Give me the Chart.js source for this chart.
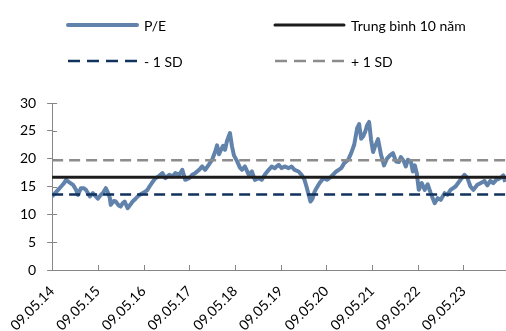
<!DOCTYPE html>
<html>
<head>
<meta charset="utf-8">
<script src="https://cdn.jsdelivr.net/npm/chart.js@4.4.1/dist/chart.umd.min.js"></script>
<style>
  html, body { margin: 0; padding: 0; background: #fff; }
</style>
</head>
<body>
<canvas id="peChart" width="506" height="331"></canvas>
<script>
// x axis labels, one per year
const tickLabels = ['09.05.14', '09.05.15', '09.05.16', '09.05.17', '09.05.18',
  '09.05.19', '09.05.20', '09.05.21', '09.05.22', '09.05.23'];

// time in years counted from 09.05.14
const years = [
  0, 0.065, 0.13, 0.196, 0.261, 0.304, 0.37, 0.457, 0.522, 0.565, 0.63, 0.696, 0.739, 0.826, 0.891, 0.957,
  1.0, 1.065, 1.109, 1.174, 1.217, 1.261, 1.283, 1.348, 1.391, 1.457, 1.5, 1.543, 1.587, 1.652, 1.717, 1.761, 1.826, 1.87, 1.935, 1.978,
  2.043, 2.087, 2.13, 2.196, 2.261, 2.326, 2.413, 2.478, 2.565, 2.63, 2.696, 2.783, 2.848, 2.913,
  3.0, 3.065, 3.13, 3.217, 3.283, 3.348, 3.435, 3.5, 3.565, 3.609, 3.652, 3.696, 3.739, 3.783, 3.826, 3.891, 3.935, 3.978,
  4.043, 4.109, 4.152, 4.217, 4.304, 4.37, 4.435, 4.522, 4.587, 4.652, 4.739, 4.804, 4.87, 4.957,
  5.022, 5.087, 5.174, 5.239, 5.304, 5.391, 5.457, 5.522, 5.565, 5.609, 5.652, 5.696, 5.739, 5.783, 5.848, 5.935,
  6.022, 6.109, 6.217, 6.326, 6.391, 6.478, 6.543, 6.609, 6.674, 6.717, 6.761, 6.804, 6.848, 6.891, 6.935, 6.978,
  7.022, 7.065, 7.13, 7.196, 7.261, 7.326, 7.391, 7.457, 7.522, 7.587, 7.63, 7.696, 7.739, 7.783, 7.848, 7.891, 7.935, 7.978,
  8.022, 8.087, 8.152, 8.217, 8.283, 8.37, 8.435, 8.5, 8.587, 8.652, 8.717, 8.826, 8.935,
  9.022, 9.087, 9.152, 9.217, 9.304, 9.37, 9.457, 9.522, 9.587, 9.652, 9.717, 9.804, 9.87, 9.913
];

const peValues = [
  13.2, 13.8, 14.4, 15.0, 15.6, 16.2, 15.8, 15.3, 14.4, 13.5, 14.7, 14.7, 14.4, 13.2, 13.8, 13.2,
  12.8, 13.5, 13.8, 14.7, 14.0, 13.0, 11.7, 12.4, 12.3, 11.6, 11.4, 12.0, 12.3, 11.1, 11.8, 12.3, 12.8, 13.2, 13.6, 13.8,
  14.1, 14.4, 15.0, 15.8, 16.5, 16.8, 17.4, 16.5, 17.1, 16.8, 17.4, 17.1, 18.0, 16.2,
  16.5, 17.1, 17.4, 18.0, 18.6, 18.0, 19.0, 19.8, 21.2, 22.4, 20.8, 21.6, 22.3, 21.6, 23.2, 24.6, 22.2, 20.6,
  19.6, 18.4, 18.0, 18.6, 17.1, 17.7, 16.2, 16.5, 16.2, 17.1, 18.0, 18.6, 18.3, 18.9,
  18.3, 18.6, 18.3, 18.6, 18.0, 17.7, 17.1, 16.2, 15.0, 13.6, 12.3, 12.8, 14.0, 14.7, 15.6, 16.5,
  16.2, 16.8, 17.7, 18.3, 19.2, 19.8, 21.0, 22.5, 25.5, 26.2, 23.6, 24.0, 24.8, 26.0, 26.6, 23.4,
  21.2, 22.2, 23.5, 20.7, 18.8, 20.0, 20.6, 21.0, 19.5, 19.4, 20.3, 19.5, 18.6, 19.8, 19.5, 17.7, 18.8, 17.4,
  14.4, 15.6, 14.4, 15.4, 13.8, 12.0, 12.9, 12.6, 13.8, 13.5, 14.4, 15.0, 16.2,
  17.1, 16.5, 15.0, 14.4, 15.3, 15.6, 16.0, 15.2, 16.0, 15.6, 16.2, 16.5, 17.0, 15.8
];

// 10-year mean and one standard deviation either side
const avg10y = 16.65;
const sdMinus = 13.55;
const sdPlus = 19.7;
const xEnd = 9.93;

const flat = v => [{ x: 0, y: v }, { x: xEnd, y: v }];
const pe = years.map((x, i) => ({ x: x, y: peValues[i] }));

const FONT = 'Lato, "Open Sans", sans-serif';
const AXIS = '#868686';

// legend laid out as a 2x2 grid above the plot
const gridLegend = {
  id: 'gridLegend',
  afterDraw(chart) {
    const ctx = chart.ctx;
    const spots = [
      { ds: 3, x: 68, y: 25 },
      { ds: 0, x: 275, y: 25 },
      { ds: 1, x: 68, y: 61 },
      { ds: 2, x: 275, y: 61 }
    ];
    ctx.save();
    ctx.font = '14px ' + FONT;
    ctx.textBaseline = 'middle';
    spots.forEach(s => {
      const d = chart.data.datasets[s.ds];
      ctx.beginPath();
      ctx.strokeStyle = d.borderColor;
      ctx.lineWidth = d.borderWidth;
      ctx.lineCap = d.borderDash ? 'butt' : 'round';
      ctx.setLineDash(d.borderDash ? [12, 7] : []);
      ctx.moveTo(s.x, s.y);
      ctx.lineTo(s.x + 69, s.y);
      ctx.stroke();
      ctx.setLineDash([]);
      ctx.fillStyle = '#000';
      ctx.fillText(d.label, s.x + 76, s.y + 1);
    });
    ctx.restore();
  }
};

// short tick marks on the inner side of both axes
const innerTicks = {
  id: 'innerTicks',
  afterDatasetsDraw(chart) {
    const { ctx, chartArea: a, scales } = chart;
    ctx.save();
    ctx.strokeStyle = AXIS;
    ctx.lineWidth = 1;
    ctx.beginPath();
    scales.y.ticks.forEach(t => {
      const y = Math.round(scales.y.getPixelForValue(t.value)) + 0.5;
      ctx.moveTo(a.left, y);
      ctx.lineTo(a.left + 5, y);
    });
    scales.x.ticks.forEach(t => {
      const x = Math.round(scales.x.getPixelForValue(t.value)) + 0.5;
      ctx.moveTo(x, a.bottom);
      ctx.lineTo(x, a.bottom - 5);
    });
    ctx.stroke();
    ctx.restore();
  }
};

new Chart(document.getElementById('peChart'), {
  type: 'line',
  data: {
    datasets: [
      { label: 'Trung bình 10 năm', data: flat(avg10y), borderColor: '#1c1c1c', borderWidth: 3 },
      { label: '- 1 SD', data: flat(sdMinus), borderColor: '#10325c', borderWidth: 2.5, borderDash: [11, 6] },
      { label: '+ 1 SD', data: flat(sdPlus), borderColor: '#8c8c8c', borderWidth: 2.5, borderDash: [11, 6] },
      { label: 'P/E', data: pe, borderColor: '#6182aa', borderWidth: 4, borderJoinStyle: 'round' }
    ]
  },
  options: {
    responsive: false,
    animation: false,
    layout: { padding: { top: 103, right: 0, left: 0, bottom: 0 } },
    elements: { point: { radius: 0 }, line: { tension: 0 } },
    plugins: { legend: { display: false }, tooltip: { enabled: false } },
    scales: {
      x: {
        type: 'linear',
        min: 0,
        max: xEnd,
        afterBuildTicks: s => { s.ticks = tickLabels.map((l, i) => ({ value: i })); },
        afterFit: s => { s.height = 61; },
        ticks: {
          autoSkip: false,
          minRotation: 45,
          maxRotation: 45,
          padding: 13,
          color: '#000',
          font: { family: FONT, size: 14 },
          callback: v => tickLabels[v]
        },
        grid: { drawOnChartArea: false, drawTicks: false, color: AXIS },
        border: { color: AXIS, width: 1 }
      },
      y: {
        min: 0,
        max: 30,
        afterFit: s => { s.width = 49; },
        ticks: {
          stepSize: 5,
          padding: 11,
          color: '#000',
          font: { family: FONT, size: 14 }
        },
        grid: { drawOnChartArea: false, drawTicks: true, tickLength: 5, color: AXIS },
        border: { color: AXIS, width: 1 }
      }
    }
  },
  plugins: [gridLegend, innerTicks]
});
</script>
</body>
</html>
